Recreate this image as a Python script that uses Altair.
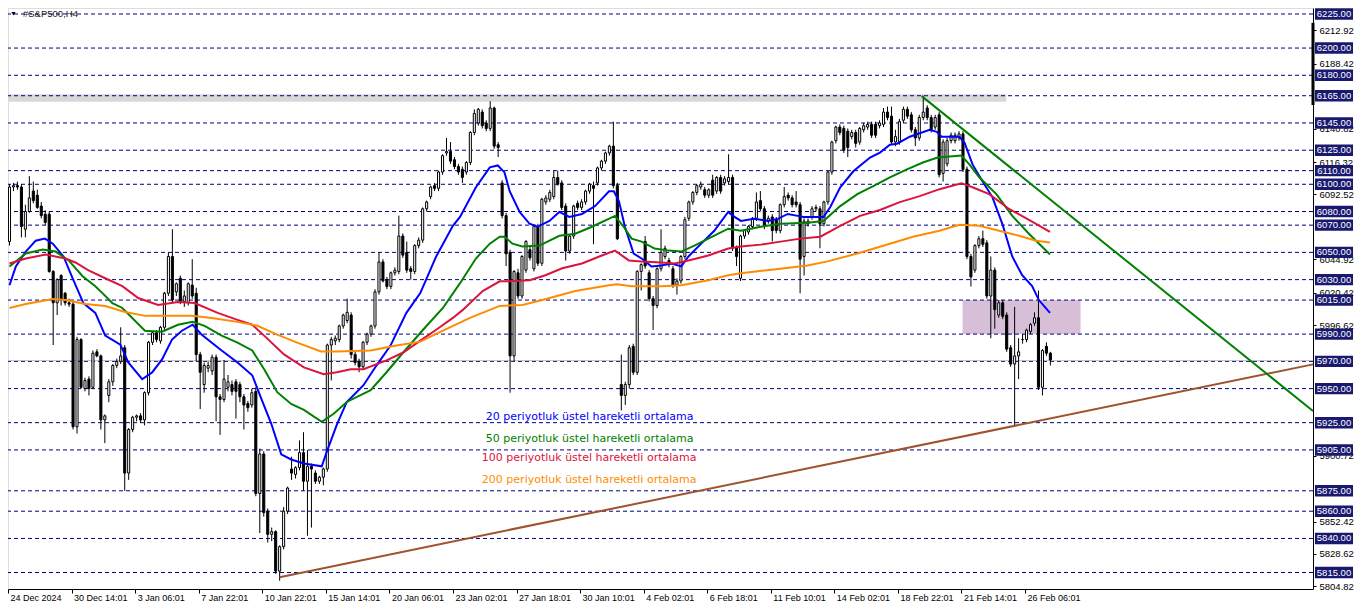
import altair as alt
import pandas as pd

# ---------------- data ----------------
opens = [
6058,6098,6099,6098,6067,6080,6095,6092,6084,6078,
6078,6036,6013,6033,6020,6013,6012,5922,5986,5950,
5957,5951,5977,5974,5927,5945,5955,5967,5970,5980,
5888,5920,5929,5930,5927,5947,5984,5991,5985,5995,
6020,6047,6021,6031,6014,6013,6026,6020,5975,5953,
5965,5963,5973,5944,5942,5951,5953,5955,5953,5944,
5939,5938,5948,5873,5902,5860,5843,5845,5816,5834,
5860,5891,5887,5892,5903,5882,5893,5888,5882,5885,
5891,5982,5985,5986,5996,6000,6004,5975,5970,5966,
5984,5990,5996,6021,6043,6030,6025,6035,6036,6062,
6050,6038,6036,6055,6059,6082,6091,6099,6097,6109,
6123,6124,6118,6113,6111,6109,6116,6138,6145,6153,
6145,6141,6156,6129,6101,6077,6050,5974,6035,6018,
6037,6052,6038,6069,6042,6087,6089,6091,6105,6101,
6084,6051,6062,6086,6083,6087,6095,6099,6101,6112,
6117,6123,6128,6099,5953,5945,5953,5981,5962,6036,
6058,6035,6016,6011,6038,6047,6044,6038,6026,6029,
6047,6075,6087,6094,6098,6096,6092,6103,6095,6105,
6101,6102,6105,6053,6031,6062,6065,6069,6075,6088,
6082,6073,6076,6074,6066,6085,6092,6090,6087,6085,
6047,6071,6076,6082,6082,6071,6087,6109,6132,6142,
6141,6139,6135,6138,6131,6140,6142,6144,6144,6143,
6144,6153,6150,6131,6131,6147,6155,6151,6140,6134,
6149,6156,6149,6142,6151,6108,6115,6132,6132,6134,
6137,6111,6047,6037,6055,6060,6057,6018,6037,6004,
6013,6004,5980,5968,5974,5986,5986,5992,5998,6002,
5951,5981,5976]
highs = [
6100,6101,6102,6100,6085,6106,6102,6096,6087,6081,
6080,6037,6031,6034,6021,6016,6014,5988,5987,5958,
5959,5978,5979,5975,5931,5957,5968,5972,5995,5982,
5921,5930,5931,5932,5948,5985,5992,5993,5996,6021,
6050,6067,6028,6033,6022,6028,6045,6024,5977,5969,
5970,5975,5975,5946,5971,5960,5956,5957,5955,5946,
5941,5950,5951,5906,5904,5862,5848,5846,5835,5863,
5878,5900,5893,5912,5918,5905,5895,5890,5886,5892,
5983,5988,5989,5997,6005,6016,6006,5977,5972,5985,
5991,5997,6023,6050,6045,6032,6036,6039,6077,6064,
6058,6040,6056,6061,6083,6088,6099,6101,6110,6122,
6134,6131,6120,6115,6113,6117,6139,6155,6156,6155,
6147,6161,6157,6131,6103,6079,6052,6037,6038,6048,
6059,6054,6070,6071,6090,6092,6096,6110,6110,6103,
6086,6063,6085,6088,6089,6096,6101,6102,6113,6118,
6124,6129,6146,6101,5975,5955,5982,5983,6037,6042,
6062,6037,6018,6039,6067,6055,6046,6040,6031,6048,
6076,6088,6095,6100,6102,6098,6097,6107,6106,6107,
6106,6122,6107,6055,6063,6067,6070,6076,6094,6095,
6084,6077,6078,6076,6086,6098,6094,6092,6095,6087,
6075,6075,6084,6085,6084,6088,6110,6132,6143,6144,
6143,6141,6140,6140,6142,6145,6146,6146,6146,6147,
6156,6157,6157,6140,6148,6157,6157,6153,6142,6151,
6165,6158,6151,6151,6153,6133,6134,6138,6138,6139,
6139,6113,6049,6056,6062,6066,6059,6047,6039,6015,
6015,6006,5982,6010,5987,5990,5994,5998,6006,6022,
5979,5984,5977]
lows = [
6055,6095,6096,6061,6061,6079,6086,6082,6075,6070,
6035,5982,6004,6011,6011,6010,5920,5917,5950,5948,
5945,5950,5973,5920,5910,5940,5952,5965,5968,5875,
5883,5918,5926,5925,5923,5945,5982,5984,5983,5993,
6018,6013,6018,6012,6010,6011,6016,5970,5935,5947,
5962,5960,5926,5916,5940,5948,5945,5928,5940,5920,
5933,5936,5871,5844,5856,5837,5838,5814,5809,5832,
5858,5883,5884,5890,5875,5842,5848,5880,5880,5879,
5889,5956,5982,5984,5994,5998,5972,5967,5962,5964,
5982,5988,5994,6019,6028,6023,6023,6033,6034,6046,
6035,6030,6034,6053,6057,6080,6089,6095,6095,6107,
6121,6115,6111,6107,6101,6107,6114,6136,6143,6141,
6139,6139,6126,6120,6075,6040,5947,5970,6016,6016,
6035,6044,6036,6040,6040,6085,6087,6089,6099,6081,
6044,6049,6060,6081,6081,6085,6093,6056,6099,6110,
6115,6121,6097,6059,5934,5938,5950,5960,5960,6022,
6038,6014,5993,6009,6036,6045,6039,6024,6019,6027,
6045,6073,6085,6092,6096,6090,6090,6090,6093,6093,
6099,6100,6051,6040,6029,6060,6063,6067,6073,6080,
6067,6071,6058,6064,6064,6083,6088,6083,6083,6020,
6033,6069,6074,6080,6053,6069,6085,6107,6130,6136,
6123,6120,6133,6127,6129,6138,6140,6134,6134,6141,
6142,6147,6129,6128,6129,6145,6148,6138,6128,6132,
6147,6147,6138,6140,6105,6102,6113,6130,6130,6132,
6109,6045,6025,6035,6053,6054,6016,5987,5994,6002,
6001,5977,5966,5923,5957,5983,5984,5990,5996,5949,
5945,5974,5967]
closes = [
6098,6099,6098,6069,6080,6090,6088,6083,6077,6072,
6036,6013,6030,6015,6013,6012,5922,5986,5951,5956,
5950,5976,5974,5927,5930,5955,5967,5970,5974,5888,
5920,5929,5930,5927,5947,5984,5991,5986,5995,6020,
6047,6015,6027,6014,6018,6027,6018,5975,5962,5967,
5967,5973,5944,5942,5957,5955,5948,5948,5944,5938,
5936,5947,5873,5902,5859,5843,5845,5816,5834,5860,
5877,5888,5892,5903,5882,5893,5891,5882,5885,5891,
5982,5986,5987,5996,6004,6006,5975,5969,5966,5984,
5990,5996,6021,6043,6029,6025,6035,6037,6062,6048,
6037,6036,6055,6059,6082,6087,6098,6097,6109,6121,
6124,6117,6113,6109,6105,6116,6138,6152,6155,6143,
6141,6156,6128,6127,6077,6049,5974,6036,6018,6047,
6058,6046,6069,6042,6089,6090,6094,6105,6100,6083,
6051,6062,6084,6083,6087,6095,6100,6097,6112,6117,
6123,6128,6099,6060,5945,5953,5980,5962,6036,6041,
6040,6016,6011,6038,6050,6053,6041,6026,6029,6047,
6074,6087,6094,6099,6100,6092,6096,6092,6105,6095,
6104,6105,6053,6047,6062,6066,6069,6075,6087,6082,
6069,6075,6066,6066,6085,6091,6090,6085,6085,6045,
6073,6073,6082,6083,6071,6087,6109,6131,6142,6138,
6125,6127,6138,6130,6141,6143,6144,6136,6136,6145,
6153,6149,6131,6135,6146,6155,6150,6140,6134,6149,
6153,6149,6140,6149,6107,6131,6132,6136,6136,6137,
6111,6047,6032,6055,6060,6056,6018,6037,6008,6013,
6003,5979,5968,5974,5977,5986,5993,5997,6002,5951,
5978,5976,5971]

ema20_bar = [0,1.6,4.1,6.6,8.9,10.9,13.6,15.9,18.6,21.6,24.1,27.9,29.9,33.4,35.9,38.4,40.9,43.4,46.1,48.4,
             53.4,57.4,61.1,63.4,65.9,68.4,70.9,74.1,78.6,79.9,82.4,84.9,89.1,92.4,95.9,99.9,103.4,107.4,111.6,113.4,
             117.4,120.9,122.9,124.6,125.9,128.4,130.9,132.9,135.9,138.4,140.9,144.1,147.4,150.9,152.1,153.4,154.9,157.1,159.1,161.6,
             164.1,166.6,169.1,170.9,174.1,177.4,180.9,182.1,184.1,187.4,190.9,193.4,195.9,198.4,199.9,204.9,206.6,209.1,212.4,216.6,
             219.1,221.6,223.4,226.6,231.6,233.4,234.6,239.1,240.4,242.4,244.9,247.4,249.9,252.4,254.9,257.4,259.1,261.9]
ema20_val = [6025.9,6039.7,6050.6,6058.6,6060.1,6056.4,6047.0,6031.0,6012.8,6005.6,5988.9,5982.3,5969.2,5956.9,5961.9,5971.4,5986.0,5992.5,5996.9,5989.6,
             5978.0,5969.2,5959.8,5942.4,5924.2,5901.7,5898.0,5895.1,5893.0,5903.9,5923.5,5940.2,5952.5,5967.1,5981.6,6005.6,6020.1,6047.0,6069.5,6076.0,
             6097.8,6112.4,6113.8,6108.7,6094.9,6079.7,6071.0,6068.8,6073.1,6079.7,6076.0,6078.2,6084.0,6094.9,6094.9,6087.7,6068.8,6049.2,6045.5,6039.7,
             6040.4,6041.9,6039.7,6047.0,6056.4,6065.9,6079.7,6076.8,6073.1,6074.6,6073.1,6074.6,6078.2,6076.8,6076.0,6076.0,6083.3,6097.8,6109.5,6119.6,
             6123.3,6129.1,6129.8,6134.9,6140.0,6138.5,6134.9,6134.9,6130.5,6114.6,6102.2,6090.6,6071.0,6047.0,6033.2,6025.2,6015.0,6005.6]

ema50_bar = [0,4.1,8.4,11.6,14.9,18.4,21.6,23.4,25.9,28.4,34.1,38.4,42.4,46.1,49.1,53.4,57.4,61.1,64.1,67.4,
             70.9,74.1,78.6,81.6,84.9,90.9,94.9,99.1,104.1,109.1,113.4,117.4,120.9,123.4,124.6,126.6,129.1,133.4,138.4,142.4,
             146.6,152.4,154.6,156.6,159.1,162.4,165.9,169.1,172.4,175.9,180.9,184.1,189.1,194.1,200.9,204.9,209.1,213.4,217.4,221.6,
             225.9,229.9,233.6,236.6,239.6,241.6,244.1,248.4,252.4,256.6,261.9]
ema50_val = [6039.7,6049.2,6052.1,6050.6,6044.1,6032.5,6025.2,6020.1,6012.8,6009.2,5992.5,5991.8,5996.9,5999.0,5996.1,5988.9,5983.8,5978.0,5964.2,5947.4,
             5938.7,5934.4,5925.6,5931.5,5940.2,5948.9,5962.0,5976.5,5993.2,6009.2,6027.4,6045.5,6056.4,6061.5,6061.5,6056.4,6054.3,6055.0,6062.2,6063.7,
             6068.8,6076.8,6068.8,6060.1,6057.9,6052.8,6051.3,6050.6,6055.0,6060.1,6067.4,6065.9,6068.8,6071.0,6071.7,6073.1,6084.0,6092.8,6098.6,6105.1,
             6110.9,6116.0,6119.6,6120.4,6121.1,6114.6,6105.1,6092.8,6076.8,6063.7,6048.4]

ema100_bar = [0,4.1,9.1,14.1,16.6,19.9,24.1,28.4,32.4,37.4,42.4,46.6,52.4,57.4,61.1,64.1,69.1,74.1,79.1,82.4,
              85.9,89.1,94.9,99.1,103.4,107.4,111.6,114.1,119.1,123.4,125.9,130.9,134.9,139.1,144.1,149.1,152.4,155.9,159.1,164.1,
              167.4,170.9,175.9,180.9,184.1,189.1,194.1,199.1,204.1,209.1,214.1,219.1,224.1,229.1,234.1,239.6,242.4,246.6,251.6,256.6,261.9]
ema100_val = [6041.9,6045.5,6048.4,6045.5,6042.6,6036.8,6031.0,6025.2,6016.5,6011.4,6013.6,6012.8,6005.6,6000.5,5996.9,5988.9,5975.1,5965.6,5960.5,5962.0,
              5964.2,5964.2,5970.7,5976.5,5985.2,5993.2,6001.9,6007.8,6021.6,6028.8,6028.8,6029.6,6033.2,6038.3,6041.9,6047.7,6051.3,6044.1,6043.3,6042.6,
              6041.9,6044.1,6047.7,6052.8,6054.3,6055.7,6057.9,6060.1,6061.5,6069.5,6076.8,6081.1,6086.9,6091.3,6096.4,6100.8,6097.8,6092.8,6081.9,6073.9,6065.1]

ema200_bar = [0,4.1,10.9,14.1,19.1,24.1,29.1,34.1,40.9,45.9,50.9,57.4,62.4,67.4,72.4,78.4,82.4,90.9,97.4,103.4,
              109.1,115.9,123.4,129.1,134.1,142.4,150.9,152.9,156.6,164.1,169.1,175.9,180.9,184.1,192.4,200.9,205.9,213.4,221.6,227.4,
              234.1,239.1,244.1,249.1,254.1,258.4,261.9]
ema200_val = [6009.2,6012.1,6015.7,6015.0,6012.1,6010.7,6006.3,6003.4,6003.4,6003.4,6001.9,5999.0,5996.1,5989.6,5983.8,5977.2,5977.2,5978.0,5981.6,5984.5,
              5992.5,6001.9,6010.7,6011.4,6015.0,6021.6,6025.9,6026.6,6025.2,6025.2,6025.9,6029.6,6033.2,6034.6,6037.5,6040.4,6043.4,6049.2,6056.4,6061.5,
              6065.9,6070.2,6069.5,6065.9,6062.2,6058.6,6057.2]

level_prices = [6225, 6200, 6180, 6165, 6145, 6125, 6110, 6100, 6080, 6070, 6050,
                6030, 6015, 5990, 5970, 5950, 5925, 5905, 5875, 5860, 5840, 5815]
# price-scale ticks that remain readable beside the boxed labels
axis_ticks = [5804.82, 5828.62, 5852.42, 5900.72, 5996.62,
              6020.42, 6044.92, 6092.52, 6116.32, 6140.82, 6188.42, 6212.92]
date_labels = ["24 Dec 2024", "30 Dec 14:01", "3 Jan 06:01", "7 Jan 22:01", "10 Jan 22:01",
               "15 Jan 14:01", "20 Jan 06:01", "23 Jan 02:01", "27 Jan 18:01", "30 Jan 10:01",
               "4 Feb 02:01", "6 Feb 18:01", "11 Feb 10:01", "14 Feb 02:01", "18 Feb 22:01",
               "21 Feb 14:01", "26 Feb 06:01"]

legend_texts = ["20 periyotluk üstel hareketli ortalama", "50 periyotluk üstel hareketli ortalama",
                "100 periyotluk üstel hareketli ortalama", "200 periyotluk üstel hareketli ortalama"]
series_names = ["EMA20", "EMA50", "EMA100", "EMA200"]
series_colors = ["#0000ff", "#008000", "#dc143c", "#ff8c00"]

bid_price = 5970.6
trend_up_bar = [68, 328.1]
trend_up_price = [5811.6, 5967.8]
trend_down_bar = [229.6, 328.1]
trend_down_price = [6164.7, 5933.6]

assert len(opens) == len(highs) == len(lows) == len(closes) == 263
assert len(ema20_bar) == len(ema20_val) and len(ema50_bar) == len(ema50_val)
assert len(ema100_bar) == len(ema100_val) and len(ema200_bar) == len(ema200_val)

# ---------------- scales & axes ----------------
PLOT_W, PLOT_H = 1305, 581
X_DOM = [-0.375, 328.1]
Y_DOM = [5802.9, 6229.4]
FONT = "Liberation Sans"
px_per_bar = PLOT_W / (X_DOM[1] - X_DOM[0])
BOX_X1 = X_DOM[1] + 2 / px_per_bar
BOX_X2 = X_DOM[1] + 40 / px_per_bar

xs = alt.Scale(domain=X_DOM, nice=False, zero=False)
ys = alt.Scale(domain=Y_DOM, nice=False, zero=False)

label_js = "[" + ",".join("'" + d + "'" for d in date_labels) + "]"
xaxis = alt.Axis(values=[16 * k - 0.375 for k in range(len(date_labels))],
                 labelExpr=label_js + "[round((datum.value + 0.375) / 16)]",
                 labelAlign="left", labelOffset=2, labelFlush=False, labelOverlap=False,
                 labelFont=FONT, labelFontSize=9, labelColor="black", labelPadding=0,
                 tickSize=4, tickColor="black", domainColor="black", grid=False, title=None)
yaxis = alt.Axis(orient="right", values=axis_ticks, format=".2f", labelOverlap=False, labelFlush=False,
                 labelFont=FONT, labelFontSize=9.5, labelColor="black", labelPadding=3,
                 tickSize=3, tickColor="black", domainColor="black", grid=False, title=None)


def X(f):
    return alt.X(f, type="quantitative", scale=xs, axis=xaxis)


def Y(f):
    return alt.Y(f, type="quantitative", scale=ys, axis=yaxis)


# ---------------- frames ----------------
candles = pd.DataFrame({"bar": list(range(len(closes))), "o": opens, "h": highs, "l": lows, "c": closes})

ema_rows = []
for name, bs, vs in zip(series_names, [ema20_bar, ema50_bar, ema100_bar, ema200_bar],
                        [ema20_val, ema50_val, ema100_val, ema200_val]):
    for b, v in zip(bs, vs):
        ema_rows.append({"bar": b, "p": v, "s": name})
ema = pd.DataFrame(ema_rows)

levels = pd.DataFrame({"p": level_prices, "lab": [f"{p:.2f}" for p in level_prices],
                       "x1": BOX_X1, "x2": BOX_X2, "xm": (BOX_X1 + BOX_X2) / 2})

trend_up = pd.DataFrame({"bar": trend_up_bar, "p": trend_up_price})
trend_down = pd.DataFrame({"bar": trend_down_bar, "p": trend_down_price})

band = pd.DataFrame({"b1": [-0.375], "b2": [250.9], "p1": [6160.5], "p2": [6166.0]})
zone = pd.DataFrame({"b1": [239.9], "b2": [269.6], "p1": [5990.0], "p2": [6015.0]})

legend = pd.DataFrame({"bar": [119.9, 119.9, 118.9, 118.9],
                       "p": [5929.3, 5913.3, 5898.8, 5882.8],
                       "t": legend_texts, "s": series_names})

# ---------------- layers ----------------
band_layer = alt.Chart(band).mark_rect(color="#d8d8d8").encode(x=X("b1"), x2="b2", y=Y("p1"), y2="p2")
zone_layer = alt.Chart(zone).mark_rect(color="#d8bfd8").encode(x=X("b1"), x2="b2", y=Y("p1"), y2="p2")

level_layer = alt.Chart(levels).mark_rule(color="#000080", strokeDash=[4, 3], strokeWidth=1).encode(y=Y("p"))

bid_layer = alt.Chart(pd.DataFrame({"p": [bid_price]})).mark_rule(color="#c0c0c0", strokeWidth=1).encode(y=Y("p"))

wicks = alt.Chart(candles).mark_rule(color="black", strokeWidth=1).encode(x=X("bar"), y=Y("l"), y2="h")

bodies = alt.Chart(candles).transform_calculate(
    b1="datum.bar - 0.26", b2="datum.bar + 0.26"
).mark_rect(stroke="black", strokeWidth=1).encode(
    x=X("b1"), x2="b2", y=Y("o"), y2="c",
    fill=alt.condition("datum.c >= datum.o", alt.value("white"), alt.value("black")))

ema_layer = alt.Chart(ema).mark_line(strokeWidth=2).encode(
    x=X("bar"), y=Y("p"),
    color=alt.Color("s:N", scale=alt.Scale(domain=series_names, range=series_colors), legend=None),
    order="bar:Q")

trend_up_layer = alt.Chart(trend_up).mark_line(strokeWidth=2, color="#a0522d").encode(x=X("bar"), y=Y("p"))
trend_down_layer = alt.Chart(trend_down).mark_line(strokeWidth=2, color="#008000").encode(x=X("bar"), y=Y("p"))

legend_layer = alt.Chart(legend).mark_text(align="left", baseline="middle", font="DejaVu Sans", fontSize=11).encode(
    x=X("bar"), y=Y("p"), text="t:N",
    color=alt.Color("s:N", scale=alt.Scale(domain=series_names, range=series_colors), legend=None))

box_layer = alt.Chart(levels).transform_calculate(
    y1="datum.p - 4.2", y2="datum.p + 4.2"
).mark_rect(fill="#191970").encode(x=X("x1"), x2="x2", y=Y("y1"), y2="y2")

box_text = alt.Chart(levels).mark_text(
    color="white", font=FONT, fontSize=9.5, align="center", baseline="middle"
).encode(x=X("xm"), y=Y("p"), text="lab:N")

scroll_mark = alt.Chart(pd.DataFrame({"bar": [X_DOM[1]], "p1": [6158.2], "p2": [6218.5]})).mark_rule(
    color="black", strokeWidth=3).encode(x=X("bar"), y=Y("p1"), y2="p2")

title_layer = alt.Chart(pd.DataFrame({"bar": [3.4], "p": [6224.8], "t": ["#S&P500,H4"]})).mark_text(
    align="left", baseline="middle", font=FONT, fontSize=9.5, color="#202020").encode(x=X("bar"), y=Y("p"), text="t:N")

tri_layer = alt.Chart(pd.DataFrame({"bar": [1.0], "p": [6225.2]})).mark_point(
    shape="triangle-down", filled=True, size=18, color="black", opacity=1).encode(x=X("bar"), y=Y("p"))

chart = alt.layer(
    band_layer, zone_layer, level_layer, bid_layer, wicks, bodies, ema_layer,
    trend_up_layer, trend_down_layer, legend_layer, box_layer, box_text,
    scroll_mark, title_layer, tri_layer
).properties(
    width=PLOT_W, height=PLOT_H,
    padding={"left": 0, "top": 0, "right": 41, "bottom": 14},
    autosize=alt.AutoSizeParams(type="none"),
).configure_view(stroke="black", strokeWidth=1).configure(background="white")

chart.save("out.html", embed_options={"renderer": "svg", "actions": False})
